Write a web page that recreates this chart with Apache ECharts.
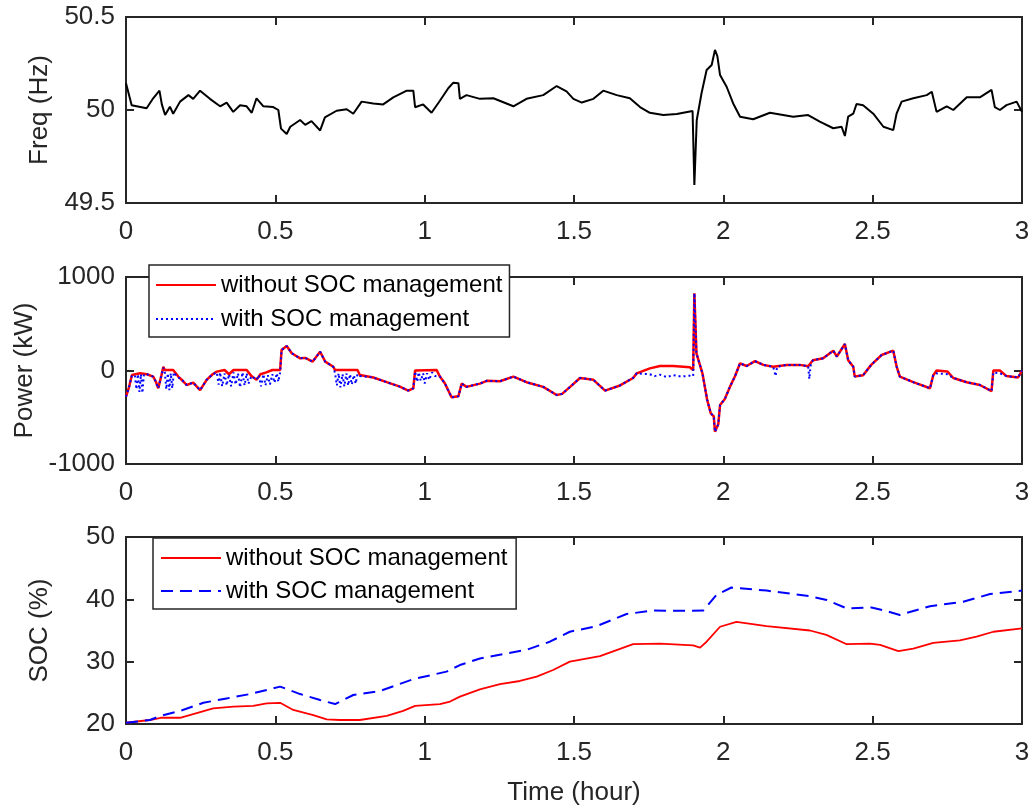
<!DOCTYPE html>
<html>
<head>
<meta charset="utf-8">
<title>Freq / Power / SOC</title>
<script src="https://cdn.jsdelivr.net/npm/echarts@6/dist/echarts.min.js"></script>
<style>
  html, body { margin: 0; padding: 0; background: #fff; }
  #chart { width: 1034px; height: 809px; }
</style>
</head>
<body>
<div id="chart"></div>
<script>
// ============================================================
// 数据（时间单位：小时）
// ============================================================

var X_TICKS = [0, 0.5, 1, 1.5, 2, 2.5, 3];

var FREQ = [
  [0, 50.144], [0.019, 50.026], [0.069, 50.009], [0.091, 50.063], [0.112, 50.104], [0.12, 50.03],
  [0.131, 49.973], [0.147, 50.018], [0.158, 49.98], [0.181, 50.045], [0.209, 50.08], [0.225, 50.06],
  [0.248, 50.104], [0.281, 50.06], [0.315, 50.02], [0.337, 50.04], [0.359, 49.99], [0.382, 50.026],
  [0.404, 50.02], [0.421, 49.985], [0.437, 50.063], [0.46, 50.02], [0.493, 50.016], [0.51, 50.0],
  [0.519, 49.90], [0.538, 49.871], [0.55, 49.91], [0.583, 49.946], [0.6, 49.92], [0.621, 49.94],
  [0.65, 49.89], [0.666, 49.96], [0.705, 49.996], [0.739, 50.004], [0.761, 49.98], [0.789, 50.045],
  [0.828, 50.035], [0.861, 50.03], [0.895, 50.068], [0.94, 50.104], [0.962, 50.104], [0.968, 50.015],
  [0.995, 50.03], [1.023, 49.985], [1.051, 50.05], [1.079, 50.117], [1.096, 50.147], [1.113, 50.144],
  [1.118, 50.06], [1.14, 50.08], [1.185, 50.06], [1.23, 50.063], [1.297, 50.02], [1.341, 50.06],
  [1.397, 50.08], [1.442, 50.129], [1.475, 50.1], [1.498, 50.06], [1.526, 50.04], [1.565, 50.06],
  [1.598, 50.104], [1.643, 50.08], [1.687, 50.063], [1.721, 50.016], [1.754, 49.985], [1.799, 49.973],
  [1.844, 49.978], [1.897, 49.995], [1.903, 49.597], [1.911, 49.946], [1.927, 50.09], [1.944, 50.215],
  [1.961, 50.242], [1.972, 50.323], [1.98, 50.29], [1.989, 50.188], [2.011, 50.125], [2.033, 50.035],
  [2.056, 49.964], [2.1, 49.95], [2.156, 49.985], [2.234, 49.964], [2.284, 49.973], [2.323, 49.937],
  [2.368, 49.902], [2.396, 49.91], [2.407, 49.86], [2.418, 49.964], [2.435, 49.98], [2.446, 50.032],
  [2.468, 50.026], [2.502, 49.98], [2.536, 49.91], [2.569, 49.892], [2.58, 49.98], [2.597, 50.045],
  [2.636, 50.063], [2.681, 50.08], [2.698, 50.098], [2.714, 49.99], [2.748, 50.02], [2.77, 50.0],
  [2.815, 50.068], [2.859, 50.068], [2.898, 50.108], [2.909, 50.016], [2.926, 50.0], [2.948, 50.026],
  [2.982, 50.045], [3.0, 49.99]
];

// 功率 kW，不含 SOC 管理
var POWER_NO_SOC = [
  [0, -280], [0.01, -180], [0.02, -48], [0.047, -30], [0.07, -40], [0.091, -65], [0.1, -120],
  [0.108, -190], [0.118, -60], [0.125, 40], [0.13, 5], [0.158, 5], [0.175, -65], [0.19, -110],
  [0.203, -155], [0.225, -130], [0.248, -210], [0.27, -100], [0.29, -40], [0.304, -12], [0.33, 5],
  [0.345, -40], [0.36, 5], [0.404, 5], [0.42, -60], [0.437, -100], [0.45, -40], [0.47, -20],
  [0.49, 5], [0.516, 5], [0.521, 220], [0.538, 262], [0.555, 184], [0.583, 130], [0.6, 135],
  [0.625, 95], [0.65, 201], [0.667, 95], [0.694, 40], [0.7, 5], [0.775, 5], [0.783, -48],
  [0.828, -75], [0.873, -125], [0.917, -173], [0.945, -215], [0.962, -190], [0.968, 0], [1.04, 5],
  [1.051, -65], [1.068, -140], [1.09, -287], [1.113, -275], [1.124, -140], [1.14, -175],
  [1.185, -140], [1.208, -110], [1.252, -115], [1.297, -65], [1.341, -125], [1.397, -175],
  [1.442, -262], [1.46, -250], [1.487, -175], [1.52, -80], [1.565, -100], [1.604, -215],
  [1.654, -160], [1.698, -80], [1.71, -30], [1.754, 23], [1.788, 48], [1.832, 48], [1.888, 35],
  [1.899, 5], [1.903, 826], [1.91, 184], [1.93, -30], [1.946, -315], [1.958, -458], [1.968, -490],
  [1.972, -655], [1.983, -575], [1.989, -369], [2.005, -305], [2.022, -175], [2.039, -62],
  [2.056, 77], [2.078, 48], [2.106, 100], [2.134, 60], [2.167, 40], [2.212, 60], [2.256, 60],
  [2.284, 45], [2.3, 110], [2.334, 130], [2.368, 212], [2.38, 150], [2.407, 283], [2.418, 110],
  [2.435, 40], [2.44, -65], [2.468, -50], [2.495, 60], [2.53, 166], [2.569, 212], [2.58, 45],
  [2.591, -65], [2.636, -125], [2.692, -190], [2.703, -50], [2.714, 0], [2.75, -10], [2.77, -80],
  [2.815, -125], [2.859, -155], [2.898, -220], [2.904, 0], [2.926, 0], [2.948, -60], [2.987, -75],
  [3.0, 0]
];

// 功率 kW，含 SOC 管理
var POWER_SOC = [
  [0, -280], [0.01, -180], [0.02, -48], [0.03, -60], [0.035, -200], [0.04, -40], [0.045, -230],
  [0.05, -40], [0.055, -240], [0.06, -40], [0.07, -40], [0.091, -65], [0.1, -120], [0.108, -190],
  [0.118, -60], [0.125, 30], [0.13, -20], [0.135, -200], [0.14, -30], [0.145, -210], [0.15, -30],
  [0.155, -190], [0.16, -20], [0.17, -60], [0.175, -65], [0.19, -110], [0.203, -155], [0.225, -130],
  [0.248, -210], [0.27, -100], [0.29, -40], [0.304, -20], [0.31, -150], [0.315, -20], [0.322, -170],
  [0.33, -30], [0.337, -160], [0.345, -40], [0.352, -170], [0.36, -20], [0.367, -150], [0.375, -30],
  [0.382, -180], [0.39, -20], [0.397, -160], [0.404, -30], [0.41, -140], [0.42, -60], [0.437, -100],
  [0.445, -50], [0.452, -170], [0.46, -40], [0.467, -160], [0.475, -50], [0.482, -150], [0.49, -40],
  [0.497, -130], [0.505, -30], [0.51, -120], [0.516, -20], [0.521, 220], [0.538, 262], [0.555, 184],
  [0.583, 130], [0.6, 135], [0.625, 95], [0.65, 201], [0.667, 95], [0.694, 40], [0.7, -30],
  [0.706, -160], [0.712, -30], [0.718, -180], [0.725, -40], [0.731, -170], [0.738, -30],
  [0.744, -160], [0.75, -40], [0.756, -150], [0.763, -50], [0.769, -140], [0.775, -40], [0.783, -60],
  [0.828, -75], [0.873, -125], [0.917, -173], [0.945, -215], [0.962, -190], [0.968, -10],
  [0.975, -120], [0.98, -20], [0.987, -110], [0.995, -30], [1.0, -140], [1.008, -30], [1.015, -100],
  [1.025, -20], [1.035, -60], [1.051, -65], [1.068, -140], [1.09, -287], [1.113, -275],
  [1.124, -140], [1.14, -175], [1.185, -140], [1.208, -110], [1.252, -115], [1.297, -65],
  [1.341, -125], [1.397, -175], [1.442, -262], [1.46, -250], [1.487, -175], [1.52, -80],
  [1.565, -100], [1.604, -215], [1.654, -160], [1.698, -80], [1.71, -30], [1.754, -40], [1.77, -60],
  [1.788, -45], [1.81, -70], [1.832, -50], [1.86, -65], [1.888, -55], [1.899, -60], [1.903, 826],
  [1.91, 184], [1.93, -30], [1.946, -315], [1.958, -458], [1.968, -490], [1.972, -655], [1.983, -575],
  [1.989, -369], [2.005, -305], [2.022, -175], [2.039, -62], [2.056, 77], [2.078, 48], [2.106, 100],
  [2.134, 60], [2.167, 40], [2.175, -60], [2.18, 40], [2.212, 60], [2.256, 60], [2.284, 45],
  [2.288, -90], [2.292, 50], [2.3, 110], [2.334, 130], [2.368, 212], [2.38, 150], [2.407, 283],
  [2.418, 110], [2.435, 40], [2.44, -65], [2.468, -50], [2.495, 60], [2.53, 166], [2.569, 212],
  [2.58, 45], [2.591, -65], [2.636, -125], [2.692, -190], [2.703, -50], [2.714, -30], [2.75, -40],
  [2.77, -80], [2.815, -125], [2.859, -155], [2.898, -220], [2.904, -20], [2.926, -30], [2.948, -60],
  [2.987, -75], [3.0, 0]
];

// SOC %
var SOC_NO_MGMT = [
  [0, 20.2], [0.08, 20.64], [0.116, 21.0], [0.181, 21.0], [0.225, 21.6], [0.292, 22.5], [0.36, 22.8],
  [0.426, 22.9], [0.471, 23.3], [0.516, 23.4], [0.56, 22.25], [0.627, 21.44], [0.672, 20.75],
  [0.716, 20.64], [0.783, 20.64], [0.873, 21.3], [0.928, 22.1], [0.968, 22.9], [1.051, 23.2],
  [1.085, 23.6], [1.118, 24.4], [1.185, 25.57], [1.252, 26.4], [1.319, 26.9], [1.375, 27.6],
  [1.43, 28.66], [1.486, 30.0], [1.587, 30.9], [1.698, 32.8], [1.788, 32.9], [1.899, 32.6],
  [1.922, 32.25], [1.944, 33.2], [1.989, 35.6], [2.044, 36.4], [2.145, 35.7], [2.29, 35.0],
  [2.345, 34.3], [2.413, 32.8], [2.491, 32.9], [2.525, 32.7], [2.586, 31.7], [2.636, 32.1],
  [2.703, 33.0], [2.792, 33.4], [2.848, 34.0], [2.904, 34.8], [3.0, 35.35]
];

var SOC_MGMT = [
  [0, 20.2], [0.08, 20.64], [0.116, 21.3], [0.181, 22.1], [0.259, 23.4], [0.337, 24.1], [0.415, 24.8],
  [0.516, 26.0], [0.583, 24.8], [0.65, 23.85], [0.7, 23.2], [0.761, 24.65], [0.85, 25.3],
  [0.962, 27.2], [1.073, 28.4], [1.118, 29.46], [1.185, 30.5], [1.274, 31.3], [1.341, 31.9],
  [1.419, 33.2], [1.486, 34.8], [1.576, 35.7], [1.676, 37.65], [1.765, 38.2], [1.855, 38.15],
  [1.933, 38.2], [1.977, 40.7], [2.027, 41.9], [2.145, 41.4], [2.29, 40.5], [2.346, 39.9],
  [2.413, 38.55], [2.496, 38.7], [2.532, 38.3], [2.591, 37.5], [2.692, 38.9], [2.803, 39.6],
  [2.893, 40.85], [3.0, 41.4]
];

var NAME_A = 'without SOC management';
var NAME_B = 'with SOC management';

// ============================================================
// 坐标轴
// ============================================================

var FONT = '"Liberation Sans", Arial, Helvetica, sans-serif';
var AXIS_COLOR = '#262626';

var GRIDS = [
  { left: 126, right: 12, top: 17, height: 186, outerBoundsMode: 'none' },
  { left: 126, right: 12, top: 277, height: 187, outerBoundsMode: 'none' },
  { left: 126, right: 12, top: 537, height: 187, outerBoundsMode: 'none' }
];

var Y_SPECS = [
  { name: 'Freq (Hz)', min: 49.5, max: 50.5, interval: 0.5 },
  { name: 'Power (kW)', min: -1000, max: 1000, interval: 1000 },
  { name: 'SOC (%)', min: 20, max: 50, interval: 10 }
];

function axisLine() {
  return { show: true, onZero: false, lineStyle: { color: AXIS_COLOR, width: 2 } };
}

function axisTick() {
  return { show: true, inside: true, length: 8, lineStyle: { color: AXIS_COLOR, width: 2 } };
}

function plainNumber(v) {
  return String(v);
}

var xAxes = [];
var yAxes = [];

GRIDS.forEach(function(g, i) {
  var bottom = {
    gridIndex: i, type: 'value', position: 'bottom',
    min: X_TICKS[0], max: X_TICKS[X_TICKS.length - 1], interval: 0.5,
    axisLine: axisLine(), axisTick: axisTick(), splitLine: { show: false },
    axisLabel: { fontSize: 26, fontFamily: FONT, color: AXIS_COLOR, margin: 16, formatter: plainNumber }
  };
  if (i === 2) {
    bottom.name = 'Time (hour)';
    bottom.nameLocation = 'middle';
    bottom.nameGap = 56;
    bottom.nameTextStyle = { fontSize: 26, fontFamily: FONT, color: AXIS_COLOR };
  }
  xAxes.push(bottom);
  xAxes.push({
    gridIndex: i, type: 'value', position: 'top',
    min: 0, max: 3, interval: 0.5,
    axisLine: axisLine(), axisTick: axisTick(), splitLine: { show: false },
    axisLabel: { show: false }
  });

  var ys = Y_SPECS[i];
  yAxes.push({
    gridIndex: i, type: 'value', position: 'left',
    min: ys.min, max: ys.max, interval: ys.interval,
    name: ys.name, nameLocation: 'middle', nameGap: 73, nameRotate: 90,
    nameTextStyle: { fontSize: 26, fontFamily: FONT, color: AXIS_COLOR },
    axisLine: axisLine(), axisTick: axisTick(), splitLine: { show: false },
    axisLabel: { fontSize: 26, fontFamily: FONT, color: AXIS_COLOR, margin: 11, formatter: plainNumber }
  });
  yAxes.push({
    gridIndex: i, type: 'value', position: 'right',
    min: ys.min, max: ys.max, interval: ys.interval,
    axisLine: axisLine(), axisTick: axisTick(), splitLine: { show: false },
    axisLabel: { show: false }
  });
});

function lineSeries(name, panel, data, color, width, type) {
  return {
    name: name, type: 'line', data: data,
    xAxisIndex: panel * 2, yAxisIndex: panel * 2,
    symbol: 'none', showSymbol: false, smooth: false,
    lineStyle: { color: color, width: width, type: type || 'solid' },
    itemStyle: { color: color },
    emphasis: { disabled: true }
  };
}

function legendBox(left, top, names, gap, padding) {
  return {
    left: left, top: top, orient: 'vertical',
    data: names, selectedMode: false,
    itemWidth: 60, itemHeight: 14, itemGap: gap,
    padding: padding,
    borderColor: AXIS_COLOR, borderWidth: 1.5, borderRadius: 0,
    backgroundColor: '#fff',
    // 只画线，不画圆点
    itemStyle: { color: 'rgba(0,0,0,0)', borderWidth: 0, opacity: 0 },
    textStyle: { fontSize: 24, fontFamily: FONT, color: '#000', lineHeight: 24 }
  };
}

// SOC 面板的系列名末尾带空格，以便图例各自对应
var NAME_A2 = NAME_A + ' ';
var NAME_B2 = NAME_B + ' ';

var chart = echarts.init(document.getElementById('chart'), null, { renderer: 'canvas' });
chart.setOption({
  animation: false,
  backgroundColor: '#fff',
  grid: GRIDS,
  xAxis: xAxes,
  yAxis: yAxes,
  legend: [
    legendBox(149, 265, [NAME_A, NAME_B], 10, [8, 7, 6, 6]),
    legendBox(153, 538, [NAME_A2, NAME_B2], 9, [8, 2, 6, 7])
  ],
  series: [
    lineSeries('freq', 0, FREQ, '#000000', 2),
    lineSeries(NAME_A, 1, POWER_NO_SOC, '#ff0000', 2.5),
    lineSeries(NAME_B, 1, POWER_SOC, '#0000ff', 2, [2, 3]),
    lineSeries(NAME_A2, 2, SOC_NO_MGMT, '#ff0000', 1.8),
    lineSeries(NAME_B2, 2, SOC_MGMT, '#0000ff', 2, [12, 7])
  ]
});
</script>
</body>
</html>
